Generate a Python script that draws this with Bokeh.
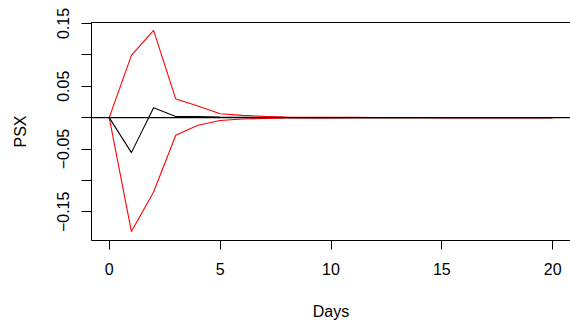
from bokeh.plotting import figure
from bokeh.models import LinearAxis, FixedTicker, Span, Range1d
from bokeh.embed import file_html
from bokeh.resources import INLINE

days = list(range(0, 21))
irf = [0.0, -0.0557, 0.0159, 0.0018, 0.0016, 0.0010, 0.0006, 0.0003, 0.0002, 0.0001,
       0.0001, 0.0, 0.0, 0.0, 0.0, 0.0, 0.0, 0.0, 0.0, 0.0, 0.0]
upper = [0.0, 0.0992, 0.1390, 0.0296, 0.0185, 0.0062, 0.0036, 0.0020, 0.0011, 0.0007,
         0.0005, 0.0004, 0.0003, 0.0002, 0.0002, 0.0001, 0.0001, 0.0001, 0.0001, 0.0001, 0.0001]
lower = [0.0, -0.1815, -0.1185, -0.0280, -0.0122, -0.0045, -0.0022, -0.0011, -0.0006, -0.0004,
         -0.0003, -0.0002, -0.0002, -0.0001, -0.0001, -0.0001, -0.0001, -0.0001, -0.0001, -0.0001, -0.0001]
y_ticks = [-0.15, -0.10, -0.05, 0.0, 0.05, 0.10, 0.15]
y_tick_labels = {-0.15: "\u22120.15", -0.10: "", -0.05: "\u22120.05", 0.0: "",
                 0.05: "0.05", 0.10: "", 0.15: "0.15"}
x_ticks = [0, 5, 10, 15, 20]

FONT = "Liberation Sans"
FS = "16px"

p = figure(width=570, height=327, output_backend="svg", toolbar_location=None,
           x_range=Range1d(-0.8, 20.8), y_range=Range1d(-0.1957, 0.1516),
           min_border_left=91, min_border_right=0, min_border_top=22, min_border_bottom=87,
           x_axis_label="Days", y_axis_label="PSX")
p.outline_line_color = None
p.grid.visible = False
p.background_fill_color = "white"
p.border_fill_color = "white"

p.line(days, upper, line_color="red", line_width=1.1)
p.line(days, lower, line_color="red", line_width=1.1)
p.line(days, irf, line_color="black", line_width=1.1)
p.add_layout(Span(location=0, dimension="width", line_color="black", line_width=1.1))

for ax in (p.xaxis[0], p.yaxis[0]):
    ax.axis_line_color = "black"
    ax.major_tick_line_color = "black"
    ax.minor_tick_line_color = None
    ax.major_tick_in = 0
    ax.major_label_text_font = FONT
    ax.major_label_text_font_size = FS
    ax.major_label_text_color = "black"
    ax.axis_label_text_font = FONT
    ax.axis_label_text_font_size = FS
    ax.axis_label_text_font_style = "normal"
    ax.axis_label_text_color = "black"

xa = p.xaxis[0]
xa.ticker = FixedTicker(ticks=x_ticks)
xa.major_tick_out = 9
xa.major_label_standoff = 13
xa.axis_label_standoff = 25

ya = p.yaxis[0]
ya.ticker = FixedTicker(ticks=y_ticks)
ya.major_label_overrides = y_tick_labels
ya.major_label_orientation = "vertical"
ya.major_tick_out = 10
ya.major_label_standoff = 12
ya.axis_label_standoff = 26

top = LinearAxis(ticker=FixedTicker(ticks=[]), axis_line_color="black",
                 major_label_text_font_size="0px", major_tick_out=0, major_tick_in=0,
                 minor_tick_line_color=None, major_label_standoff=0)
p.add_layout(top, "above")

open("out.html", "w").write(file_html(p, INLINE))
